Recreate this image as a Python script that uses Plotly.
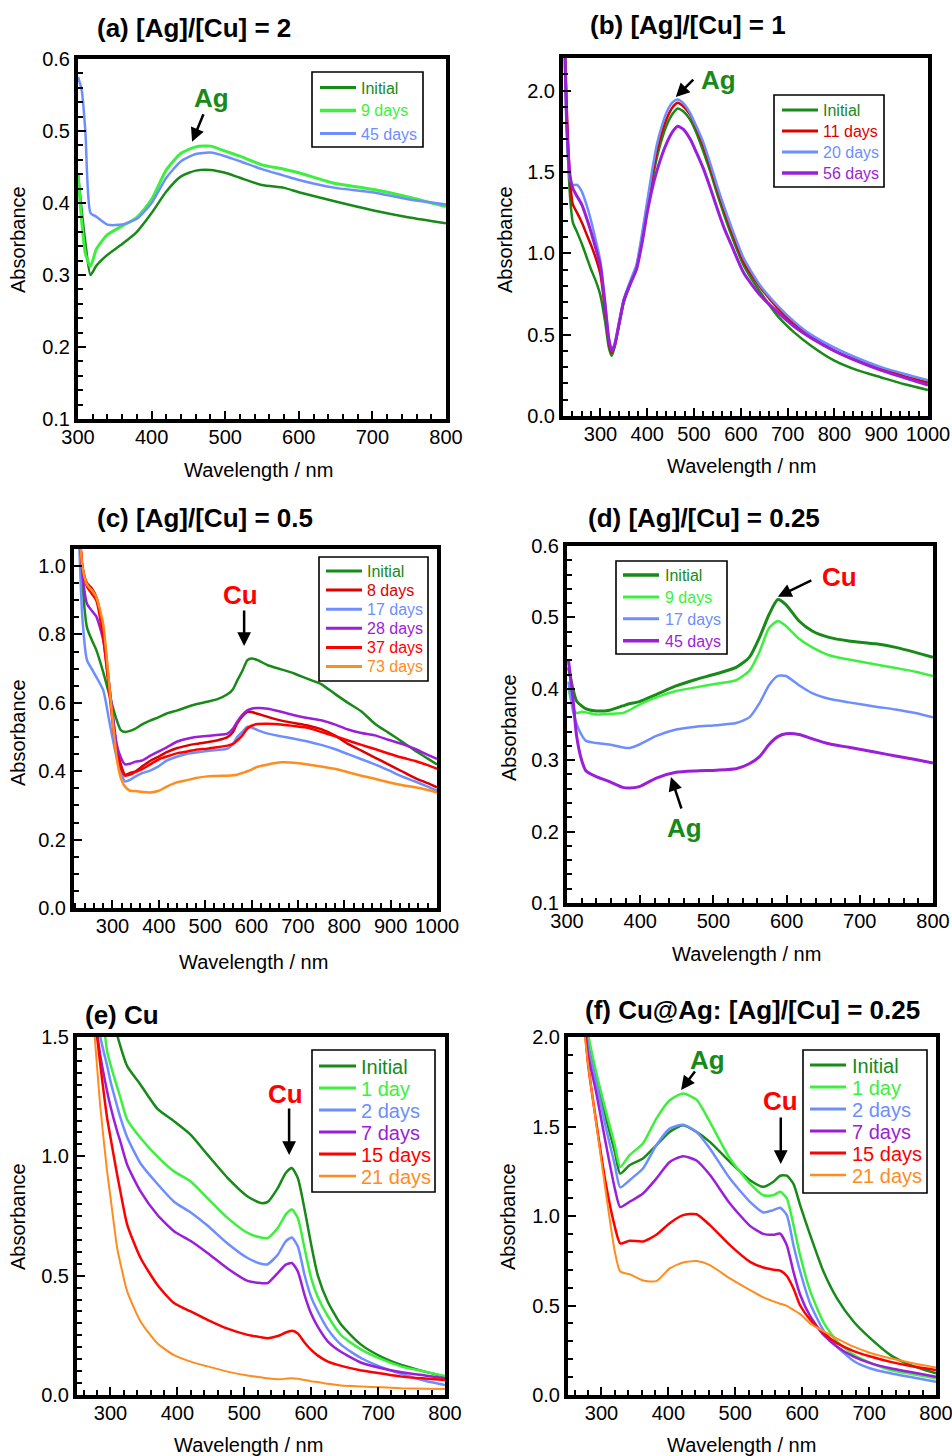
import plotly.graph_objects as go

W, H = 952, 1456

# ---------------- colours ----------------
C_INIT = "#178A17"
C_LGRN = "#3DF03D"
C_BLUE = "#6E8EFF"
C_PURP = "#9B1ED8"
C_RED = "#FF0000"
C_DRED = "#DD0000"
C_ORNG = "#FF8C1E"

# ---------------- (a) [Ag]/[Cu] = 2 ----------------
wl_a = [300, 305, 310, 317, 325, 340, 360, 380, 400, 420, 440, 460, 480, 500, 520, 550, 580, 600, 650, 700, 750, 800]
a_initial = [0.44, 0.39, 0.345, 0.300, 0.313, 0.328, 0.343, 0.360, 0.386, 0.416, 0.437, 0.445, 0.446, 0.442, 0.435, 0.425, 0.421, 0.415, 0.402, 0.390, 0.380, 0.372]
a_9days = [0.44, 0.375, 0.330, 0.312, 0.336, 0.356, 0.368, 0.380, 0.405, 0.446, 0.469, 0.478, 0.479, 0.472, 0.465, 0.453, 0.447, 0.442, 0.427, 0.419, 0.408, 0.395]
a_45days = [0.575, 0.557, 0.500, 0.386, 0.381, 0.370, 0.370, 0.378, 0.400, 0.435, 0.458, 0.468, 0.470, 0.465, 0.458, 0.447, 0.438, 0.432, 0.421, 0.415, 0.405, 0.398]

# ---------------- (b) [Ag]/[Cu] = 1 ----------------
wl_b = [222, 228, 235, 241, 250, 260, 270, 280, 290, 300, 310, 318, 324, 330, 340, 350, 365, 377, 390, 400, 410, 420, 431, 442, 455, 465, 478, 492, 505, 520, 535, 550, 565, 580, 606, 642, 678, 714, 750, 800, 850, 900, 950, 1000]
b_initial = [2.5, 1.80, 1.35, 1.19, 1.13, 1.06, 0.98, 0.90, 0.83, 0.74, 0.58, 0.42, 0.37, 0.42, 0.56, 0.70, 0.82, 0.91, 1.10, 1.28, 1.44, 1.58, 1.70, 1.79, 1.86, 1.89, 1.87, 1.82, 1.74, 1.625, 1.50, 1.36, 1.23, 1.11, 0.926, 0.76, 0.617, 0.514, 0.432, 0.34, 0.28, 0.237, 0.195, 0.16]
b_11days = [2.5, 1.90, 1.45, 1.30, 1.25, 1.19, 1.12, 1.05, 0.97, 0.87, 0.65, 0.45, 0.39, 0.43, 0.57, 0.71, 0.83, 0.92, 1.12, 1.30, 1.47, 1.62, 1.74, 1.83, 1.90, 1.925, 1.90, 1.85, 1.77, 1.66, 1.53, 1.39, 1.26, 1.14, 0.95, 0.79, 0.665, 0.565, 0.485, 0.40, 0.34, 0.29, 0.245, 0.205]
b_20days = [2.5, 1.75, 1.45, 1.42, 1.42, 1.38, 1.30, 1.20, 1.08, 0.95, 0.70, 0.48, 0.41, 0.44, 0.58, 0.72, 0.84, 0.93, 1.14, 1.32, 1.50, 1.66, 1.78, 1.87, 1.93, 1.945, 1.92, 1.86, 1.78, 1.68, 1.55, 1.41, 1.28, 1.16, 0.97, 0.80, 0.68, 0.58, 0.50, 0.42, 0.355, 0.30, 0.258, 0.22]
b_56days = [2.5, 1.80, 1.48, 1.40, 1.35, 1.30, 1.22, 1.13, 1.03, 0.92, 0.68, 0.47, 0.40, 0.43, 0.57, 0.71, 0.82, 0.90, 1.08, 1.25, 1.39, 1.50, 1.60, 1.68, 1.75, 1.78, 1.76, 1.70, 1.62, 1.52, 1.40, 1.27, 1.15, 1.05, 0.88, 0.74, 0.64, 0.55, 0.48, 0.40, 0.335, 0.28, 0.235, 0.19]

# ---------------- (c) [Ag]/[Cu] = 0.5 ----------------
wl_c = [225, 235, 245, 255, 265, 280, 294, 309, 318, 327, 338, 350, 365, 381, 400, 417, 440, 461, 480, 504, 525, 548, 560, 569, 580, 591, 600, 613, 635, 664, 692, 721, 750, 779, 808, 837, 866, 895, 924, 953, 980, 1000]
c_initial = [1.2, 0.95, 0.82, 0.785, 0.755, 0.69, 0.62, 0.55, 0.52, 0.515, 0.518, 0.525, 0.538, 0.548, 0.558, 0.569, 0.578, 0.588, 0.596, 0.603, 0.610, 0.625, 0.640, 0.665, 0.693, 0.725, 0.730, 0.725, 0.710, 0.698, 0.686, 0.670, 0.655, 0.627, 0.600, 0.575, 0.539, 0.513, 0.487, 0.460, 0.437, 0.420]
c_8days = [1.2, 1.0, 0.95, 0.935, 0.91, 0.81, 0.64, 0.47, 0.42, 0.39, 0.395, 0.40, 0.415, 0.43, 0.443, 0.456, 0.468, 0.475, 0.48, 0.485, 0.49, 0.50, 0.515, 0.54, 0.56, 0.574, 0.573, 0.568, 0.559, 0.548, 0.541, 0.534, 0.523, 0.505, 0.48, 0.46, 0.44, 0.42, 0.40, 0.38, 0.365, 0.353]
c_17days = [1.2, 0.85, 0.725, 0.70, 0.676, 0.637, 0.54, 0.44, 0.40, 0.37, 0.375, 0.385, 0.395, 0.402, 0.415, 0.431, 0.443, 0.451, 0.455, 0.459, 0.462, 0.466, 0.48, 0.50, 0.515, 0.53, 0.528, 0.52, 0.51, 0.502, 0.495, 0.487, 0.477, 0.465, 0.45, 0.435, 0.42, 0.403, 0.385, 0.37, 0.355, 0.343]
c_28days = [1.2, 0.98, 0.89, 0.87, 0.853, 0.784, 0.637, 0.48, 0.44, 0.42, 0.422, 0.428, 0.432, 0.445, 0.458, 0.47, 0.487, 0.495, 0.50, 0.503, 0.506, 0.51, 0.525, 0.545, 0.565, 0.578, 0.583, 0.585, 0.583, 0.574, 0.564, 0.556, 0.549, 0.537, 0.522, 0.512, 0.505, 0.492, 0.48, 0.465, 0.448, 0.436]
c_37days = [1.2, 1.0, 0.94, 0.92, 0.90, 0.79, 0.62, 0.45, 0.41, 0.387, 0.39, 0.398, 0.407, 0.42, 0.435, 0.443, 0.453, 0.458, 0.463, 0.466, 0.47, 0.475, 0.48, 0.49, 0.505, 0.525, 0.533, 0.538, 0.539, 0.537, 0.532, 0.527, 0.515, 0.503, 0.49, 0.477, 0.465, 0.452, 0.44, 0.43, 0.418, 0.407]
c_73days = [1.2, 1.0, 0.946, 0.93, 0.91, 0.83, 0.637, 0.44, 0.38, 0.355, 0.343, 0.342, 0.339, 0.338, 0.343, 0.355, 0.368, 0.374, 0.38, 0.385, 0.386, 0.387, 0.388, 0.39, 0.395, 0.40, 0.405, 0.413, 0.42, 0.426, 0.425, 0.42, 0.414, 0.407, 0.397, 0.387, 0.378, 0.368, 0.36, 0.353, 0.345, 0.338]

# ---------------- (d) [Ag]/[Cu] = 0.25 ----------------
wl_d = [302, 308, 313, 320, 326, 340, 358, 376, 385, 399, 422, 449, 476, 504, 531, 549, 563, 576, 588, 599, 617, 635, 658, 685, 722, 749, 776, 800]
d_initial = [0.43, 0.40, 0.383, 0.376, 0.372, 0.369, 0.370, 0.376, 0.379, 0.382, 0.392, 0.404, 0.413, 0.421, 0.430, 0.444, 0.472, 0.504, 0.525, 0.518, 0.495, 0.481, 0.472, 0.467, 0.463, 0.458, 0.451, 0.444]
d_9days = [0.40, 0.375, 0.366, 0.368, 0.367, 0.364, 0.365, 0.366, 0.370, 0.378, 0.388, 0.397, 0.402, 0.407, 0.412, 0.425, 0.452, 0.485, 0.495, 0.488, 0.470, 0.458, 0.447, 0.441, 0.434, 0.429, 0.424, 0.418]
d_17days = [0.41, 0.37, 0.351, 0.335, 0.327, 0.324, 0.322, 0.318, 0.317, 0.322, 0.334, 0.343, 0.347, 0.349, 0.352, 0.360, 0.380, 0.405, 0.418, 0.418, 0.405, 0.394, 0.386, 0.381, 0.375, 0.371, 0.366, 0.360]
d_45days = [0.44, 0.388, 0.335, 0.300, 0.285, 0.277, 0.270, 0.262, 0.261, 0.263, 0.275, 0.283, 0.285, 0.286, 0.288, 0.295, 0.305, 0.322, 0.333, 0.337, 0.336, 0.330, 0.323, 0.318, 0.311, 0.306, 0.301, 0.296]

# ---------------- (e) Cu ----------------
wl_e = [276, 285, 295, 300, 310, 315, 325, 345, 370, 395, 420, 445, 475, 505, 525, 535, 550, 562, 571, 580, 590, 600, 610, 625, 645, 675, 705, 735, 770, 800]
e_initial = [2.3, 2.0, 1.8, 1.7, 1.51, 1.46, 1.378, 1.30, 1.20, 1.147, 1.09, 1.007, 0.91, 0.832, 0.804, 0.809, 0.867, 0.93, 0.951, 0.909, 0.78, 0.63, 0.50, 0.39, 0.294, 0.21, 0.16, 0.126, 0.098, 0.077]
e_1day = [2.0, 1.7, 1.44, 1.385, 1.29, 1.245, 1.154, 1.077, 1.0, 0.937, 0.895, 0.825, 0.742, 0.679, 0.660, 0.658, 0.70, 0.756, 0.777, 0.742, 0.616, 0.49, 0.41, 0.33, 0.25, 0.19, 0.15, 0.119, 0.098, 0.08]
e_2days = [1.8, 1.5, 1.38, 1.315, 1.21, 1.161, 1.08, 0.97, 0.885, 0.81, 0.765, 0.71, 0.635, 0.574, 0.55, 0.548, 0.588, 0.644, 0.66, 0.623, 0.504, 0.41, 0.35, 0.275, 0.21, 0.154, 0.117, 0.088, 0.06, 0.042]
e_7days = [1.6, 1.42, 1.273, 1.21, 1.105, 1.06, 0.965, 0.853, 0.755, 0.686, 0.645, 0.595, 0.53, 0.478, 0.469, 0.469, 0.511, 0.546, 0.553, 0.518, 0.42, 0.34, 0.285, 0.224, 0.18, 0.135, 0.112, 0.095, 0.082, 0.07]
e_15days = [1.6, 1.38, 1.161, 1.08, 0.923, 0.85, 0.714, 0.574, 0.462, 0.385, 0.35, 0.315, 0.278, 0.252, 0.242, 0.238, 0.247, 0.262, 0.269, 0.258, 0.22, 0.189, 0.165, 0.14, 0.122, 0.103, 0.09, 0.077, 0.069, 0.063]
e_21days = [1.52, 1.203, 0.937, 0.83, 0.616, 0.55, 0.434, 0.308, 0.217, 0.167, 0.14, 0.12, 0.098, 0.082, 0.074, 0.07, 0.066, 0.068, 0.07, 0.068, 0.063, 0.058, 0.054, 0.047, 0.04, 0.036, 0.032, 0.028, 0.026, 0.025]

# ---------------- (f) Cu@Ag: [Ag]/[Cu] = 0.25 ----------------
wl_f = [272, 280, 292, 307, 320, 328, 342, 362, 382, 402, 422, 442, 462, 492, 522, 542, 557, 567, 577, 587, 597, 612, 632, 652, 677, 702, 732, 762, 800]
f_initial = [2.4, 2.0, 1.786, 1.544, 1.358, 1.237, 1.284, 1.321, 1.395, 1.47, 1.507, 1.47, 1.414, 1.302, 1.20, 1.163, 1.191, 1.225, 1.225, 1.18, 1.06, 0.893, 0.688, 0.54, 0.409, 0.316, 0.223, 0.167, 0.121]
f_1day = [2.4, 2.02, 1.805, 1.581, 1.395, 1.274, 1.34, 1.405, 1.544, 1.647, 1.684, 1.65, 1.526, 1.321, 1.181, 1.116, 1.116, 1.135, 1.098, 0.949, 0.78, 0.58, 0.405, 0.30, 0.225, 0.18, 0.14, 0.118, 0.093]
f_2days = [2.3, 1.95, 1.749, 1.488, 1.284, 1.16, 1.20, 1.265, 1.395, 1.488, 1.51, 1.47, 1.377, 1.209, 1.079, 1.02, 1.033, 1.046, 1.005, 0.837, 0.69, 0.51, 0.36, 0.27, 0.19, 0.148, 0.121, 0.10, 0.074]
f_7days = [2.2, 1.9, 1.693, 1.395, 1.153, 1.05, 1.079, 1.126, 1.209, 1.302, 1.334, 1.31, 1.23, 1.07, 0.945, 0.90, 0.895, 0.902, 0.837, 0.688, 0.56, 0.44, 0.335, 0.27, 0.215, 0.178, 0.149, 0.128, 0.102]
f_15days = [2.2, 1.85, 1.53, 1.17, 0.94, 0.847, 0.862, 0.858, 0.895, 0.96, 1.005, 1.01, 0.949, 0.837, 0.744, 0.712, 0.70, 0.695, 0.665, 0.595, 0.50, 0.42, 0.345, 0.29, 0.245, 0.215, 0.185, 0.162, 0.14]
f_21days = [2.1, 1.85, 1.52, 1.12, 0.80, 0.69, 0.675, 0.64, 0.636, 0.707, 0.74, 0.748, 0.726, 0.651, 0.586, 0.545, 0.523, 0.51, 0.498, 0.475, 0.452, 0.40, 0.355, 0.315, 0.27, 0.235, 0.205, 0.18, 0.153]

FONT = "Arial, Liberation Sans, Helvetica, sans-serif"

panels = [
    dict(title="(a) [Ag]/[Cu] = 2", tpos=(95, 28), wl=wl_a,
         series=[("Initial", a_initial, C_INIT, 2.5), ("9 days", a_9days, C_LGRN, 3), ("45 days", a_45days, C_BLUE, 2.5)],
         dom=(78, 446, 59, 419), xr=[300, 800], yr=[0.1, 0.6], ydt=0.1, ymin=0.02,
         leg=dict(box=(312, 72, 423, 147), y0=87.5, dy=23, lx=(320, 356), tx=359, fs=16),
         ytit=(18, 240), xtit=(258, 470)),
    dict(title="(b) [Ag]/[Cu] = 1", tpos=(588, 25), wl=wl_b,
         series=[("Initial", b_initial, C_INIT, 2.5), ("11 days", b_11days, C_DRED, 2.5), ("20 days", b_20days, C_BLUE, 2.5), ("56 days", b_56days, C_PURP, 3)],
         dom=(563, 928, 58, 416), xr=[220, 1000], yr=[0, 2.2], ydt=0.5, ymin=0.1,
         leg=dict(box=(774, 95, 884, 187), y0=110, dy=21, lx=(782, 818), tx=821, fs=16),
         ytit=(505, 240), xtit=(741, 466)),
    dict(title="(c) [Ag]/[Cu] = 0.5", tpos=(95, 518), wl=wl_c,
         series=[("Initial", c_initial, C_INIT, 2.5), ("8 days", c_8days, C_DRED, 2.5), ("17 days", c_17days, C_BLUE, 2.5),
                 ("28 days", c_28days, C_PURP, 2.5), ("37 days", c_37days, C_RED, 2.5), ("73 days", c_73days, C_ORNG, 2.5)],
         dom=(74, 437, 549, 908), xr=[217, 1000], yr=[0, 1.05], ydt=0.2, ymin=0.05,
         leg=dict(box=(319, 557, 428, 681), y0=571, dy=19.1, lx=(326, 362), tx=365, fs=16),
         ytit=(18, 733), xtit=(253, 962)),
    dict(title="(d) [Ag]/[Cu] = 0.25", tpos=(586, 518), wl=wl_d,
         series=[("Initial", d_initial, C_INIT, 3), ("9 days", d_9days, C_LGRN, 2.5), ("17 days", d_17days, C_BLUE, 2.5), ("45 days", d_45days, C_PURP, 3)],
         dom=(567, 933, 546, 903), xr=[300, 800], yr=[0.1, 0.6], ydt=0.1, ymin=0.02,
         leg=dict(box=(616, 561, 727, 654), y0=575, dy=21.9, lx=(623, 659), tx=663, fs=16),
         ytit=(509, 728), xtit=(746, 954)),
    dict(title="(e) Cu", tpos=(83, 1015), wl=wl_e,
         series=[("Initial", e_initial, C_INIT, 2.5), ("1 day", e_1day, C_LGRN, 2.5), ("2 days", e_2days, C_BLUE, 2.5),
                 ("7 days", e_7days, C_PURP, 2.5), ("15 days", e_15days, C_RED, 2.5), ("21 days", e_21days, C_ORNG, 2)],
         dom=(77, 445, 1037, 1395), xr=[250, 800], yr=[0, 1.5], ydt=0.5, ymin=0.05,
         leg=dict(box=(312, 1050, 435, 1192), y0=1066, dy=22, lx=(319, 356), tx=359, fs=20),
         ytit=(18, 1217), xtit=(248, 1445)),
    dict(title="(f) Cu@Ag: [Ag]/[Cu] = 0.25", tpos=(583, 1010), wl=wl_f,
         series=[("Initial", f_initial, C_INIT, 2.5), ("1 day", f_1day, C_LGRN, 2.5), ("2 days", f_2days, C_BLUE, 2.5),
                 ("7 days", f_7days, C_PURP, 2.5), ("15 days", f_15days, C_RED, 2.5), ("21 days", f_21days, C_ORNG, 2)],
         dom=(568, 936, 1037, 1395), xr=[250, 800], yr=[0, 2.0], ydt=0.5, ymin=0.1,
         leg=dict(box=(803, 1050, 927, 1193), y0=1065, dy=22, lx=(810, 846), tx=850, fs=20),
         ytit=(508, 1217), xtit=(741, 1445)),
]

# peak labels and arrows: (panel, label, colour, text x, text y, arrow tip x, tip y, ax px, ay px)
marks = [
    (1, "Ag", C_INIT, 482, 0.546, 455, 0.485, 12, -29),
    (2, "Ag", C_INIT, 553, 2.065, 461, 1.96, 19, -19),
    (3, "Cu", C_RED, 577, 0.915, 584, 0.766, 0, -37),
    (4, "Cu", C_RED, 672, 0.557, 588, 0.529, 35, -17),
    (4, "Ag", C_INIT, 460, 0.205, 442, 0.2765, 11, 33),
    (5, "Cu", C_RED, 561, 1.261, 567, 1.006, 0, -48),
    (6, "Ag", C_INIT, 459, 1.871, 419, 1.704, 15, -20),
    (6, "Cu", C_RED, 568, 1.642, 568, 1.29, 0, -48),
]


def px(x):
    return x / W


def py(y):
    return 1 - y / H


fig = go.Figure()
annotations = []
shapes = []
layout = dict(width=W, height=H, margin=dict(l=0, r=0, t=0, b=0, pad=0, autoexpand=False),
              paper_bgcolor="white", plot_bgcolor="white", template="none",
              font=dict(family=FONT, color="black"), showlegend=False)

for i, p in enumerate(panels, start=1):
    sfx = "" if i == 1 else str(i)
    xa, ya = "x" + sfx, "y" + sfx
    for name, vals, col, lw in p["series"]:
        fig.add_trace(go.Scatter(
            x=p["wl"], y=vals, mode="lines", name=name,
            line=dict(color=col, width=lw, shape="spline", smoothing=0.6),
            xaxis=xa, yaxis=ya, showlegend=False, hoverinfo="skip"))
    x0, x1, y0, y1 = p["dom"]
    common = dict(showline=True, linewidth=4, linecolor="black", mirror=True,
                  ticks="inside", ticklen=8, tickwidth=2.2, tickcolor="black",
                  showgrid=False, zeroline=False, automargin=False, ticklabeloverflow="allow",
                  tickfont=dict(family=FONT, size=20, color="black"))
    layout["xaxis" + sfx] = dict(domain=[px(x0), px(x1)], range=p["xr"], anchor=ya,
                                 tick0=0, dtick=100, ticklabelstandoff=-3,
                                 minor=dict(dtick=20, tick0=0, ticks="inside", ticklen=5, tickwidth=2,
                                            tickcolor="black", showgrid=False),
                                 **common)
    eps = 1e-6
    layout["yaxis" + sfx] = dict(domain=[py(y1), py(y0)], range=[p["yr"][0] - eps, p["yr"][1] + eps], anchor=xa,
                                 tick0=0, dtick=p["ydt"], tickformat=".1f",
                                 minor=dict(dtick=p["ymin"], tick0=0, ticks="inside", ticklen=5, tickwidth=2,
                                            tickcolor="black", showgrid=False),
                                 **common)
    # legend box drawn as shapes + coloured text
    lg = p["leg"]
    bx0, by0, bx1, by1 = lg["box"]
    shapes.append(dict(type="rect", xref="paper", yref="paper", x0=px(bx0), x1=px(bx1), y0=py(by1), y1=py(by0),
                       line=dict(color="black", width=1.6), fillcolor="white", layer="above"))
    for k, (name, vals, col, lw) in enumerate(p["series"]):
        yy = lg["y0"] + k * lg["dy"]
        shapes.append(dict(type="line", xref="paper", yref="paper", x0=px(lg["lx"][0]), x1=px(lg["lx"][1]),
                           y0=py(yy), y1=py(yy), line=dict(color=col, width=lw + 0.5), layer="above"))
        annotations.append(dict(text=name, x=px(lg["tx"]), y=py(yy + 0.5), xref="paper", yref="paper",
                                xanchor="left", yanchor="middle", showarrow=False,
                                font=dict(family=FONT, size=lg["fs"], color=col)))
    tx, ty = p["tpos"]
    annotations.append(dict(text=f"<b>{p['title']}</b>", x=px(tx), y=py(ty), xref="paper", yref="paper",
                            xanchor="left", yanchor="middle", showarrow=False,
                            font=dict(family=FONT, size=26, color="black")))
    ax_, ay_ = p["ytit"]
    annotations.append(dict(text="Absorbance", x=px(ax_), y=py(ay_), xref="paper", yref="paper",
                            xanchor="center", yanchor="middle", textangle=-90, showarrow=False,
                            font=dict(family=FONT, size=20, color="black")))
    bx_, by_ = p["xtit"]
    annotations.append(dict(text="Wavelength / nm", x=px(bx_), y=py(by_), xref="paper", yref="paper",
                            xanchor="center", yanchor="middle", showarrow=False,
                            font=dict(family=FONT, size=20, color="black")))

for (pi, lab, col, tx, ty, hx, hy, dax, day) in marks:
    sfx = "" if pi == 1 else str(pi)
    annotations.append(dict(text=f"<b>{lab}</b>", x=tx, y=ty, xref="x" + sfx, yref="y" + sfx,
                            showarrow=False, font=dict(family=FONT, size=26, color=col)))
    annotations.append(dict(text="", x=hx, y=hy, xref="x" + sfx, yref="y" + sfx,
                            showarrow=True, ax=dax, ay=day, arrowhead=2, arrowsize=1.1,
                            arrowwidth=2.5, arrowcolor="black", standoff=0, startstandoff=0))

layout["annotations"] = annotations
layout["shapes"] = shapes
fig.update_layout(**layout)
fig.write_html("out.html", config={"displayModeBar": False},
               post_script="document.body.style.margin='0px';document.body.style.overflow='hidden';")
